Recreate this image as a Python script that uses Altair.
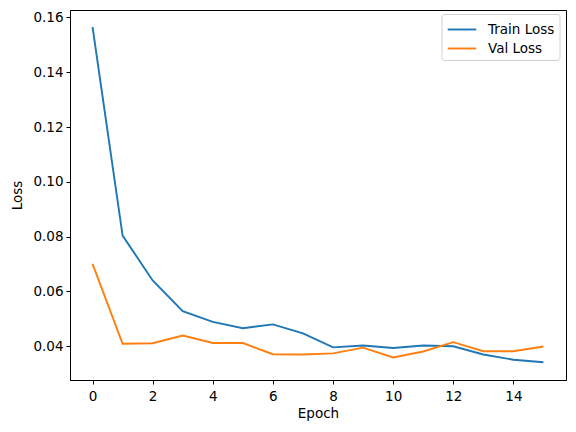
import altair as alt
import pandas as pd

# loss values
epochs = list(range(16))
train_loss = [0.1565, 0.0804, 0.0640, 0.0528, 0.0489, 0.0466, 0.0480, 0.0447,
              0.0396, 0.0403, 0.0394, 0.0403, 0.0400, 0.0370, 0.0351, 0.0342]
val_loss = [0.0701, 0.0409, 0.0411, 0.0439, 0.0412, 0.0412, 0.0371, 0.0370,
            0.0374, 0.0395, 0.0359, 0.0381, 0.0415, 0.0382, 0.0382, 0.0399]
series = ["Train Loss", "Val Loss"]
x_ticks = [0, 2, 4, 6, 8, 10, 12, 14]
y_ticks = [0.04, 0.06, 0.08, 0.10, 0.12, 0.14, 0.16]

df = pd.DataFrame({"Epoch": epochs, series[0]: train_loss, series[1]: val_loss})
df = df.melt(id_vars="Epoch", var_name="series", value_name="Loss")

font = "DejaVu Sans"
fs = 13.5

chart = alt.Chart(df).mark_line(strokeWidth=1.9, clip=True).encode(
    x=alt.X("Epoch:Q",
            scale=alt.Scale(domain=[-0.75, 15.75], nice=False, zero=False),
            axis=alt.Axis(values=x_ticks, format="d", title="Epoch")),
    y=alt.Y("Loss:Q",
            scale=alt.Scale(domain=[0.0277, 0.1627], nice=False, zero=False),
            axis=alt.Axis(values=y_ticks, format=".2f", title="Loss")),
    color=alt.Color("series:N",
                    scale=alt.Scale(domain=series, range=["#1f77b4", "#ff7f0e"]),
                    legend=alt.Legend(title=None, orient="none", legendX=371.5, legendY=4,
                                      symbolType="M-1.5,0H1.5", symbolSize=361,
                                      symbolStrokeWidth=1.9, symbolOffset=5,
                                      labelFontSize=fs, labelFont=font,
                                      labelColor="black", labelOffset=15.5,
                                      rowPadding=2, padding=5,
                                      strokeColor="#d0d0d0", fillColor="white",
                                      cornerRadius=3)),
).properties(
    width=496,
    height=370,
    autosize=alt.AutoSizeParams(type="none"),
    padding={"left": 62, "top": 2, "right": 2, "bottom": 44},
).configure_view(
    stroke="black", strokeWidth=1
).configure_axis(
    grid=False,
    domainColor="black",
    tickColor="black",
    tickSize=4,
    labelFont=font,
    labelFontSize=fs,
    labelColor="black",
    titleFont=font,
    titleFontSize=fs,
    titleFontWeight="normal",
    titleColor="black",
).configure_axisX(
    labelPadding=5,
    titlePadding=4,
).configure_axisY(
    labelPadding=3,
    titlePadding=8,
)

chart.save("out.html", embed_options={"renderer": "svg", "actions": False})
